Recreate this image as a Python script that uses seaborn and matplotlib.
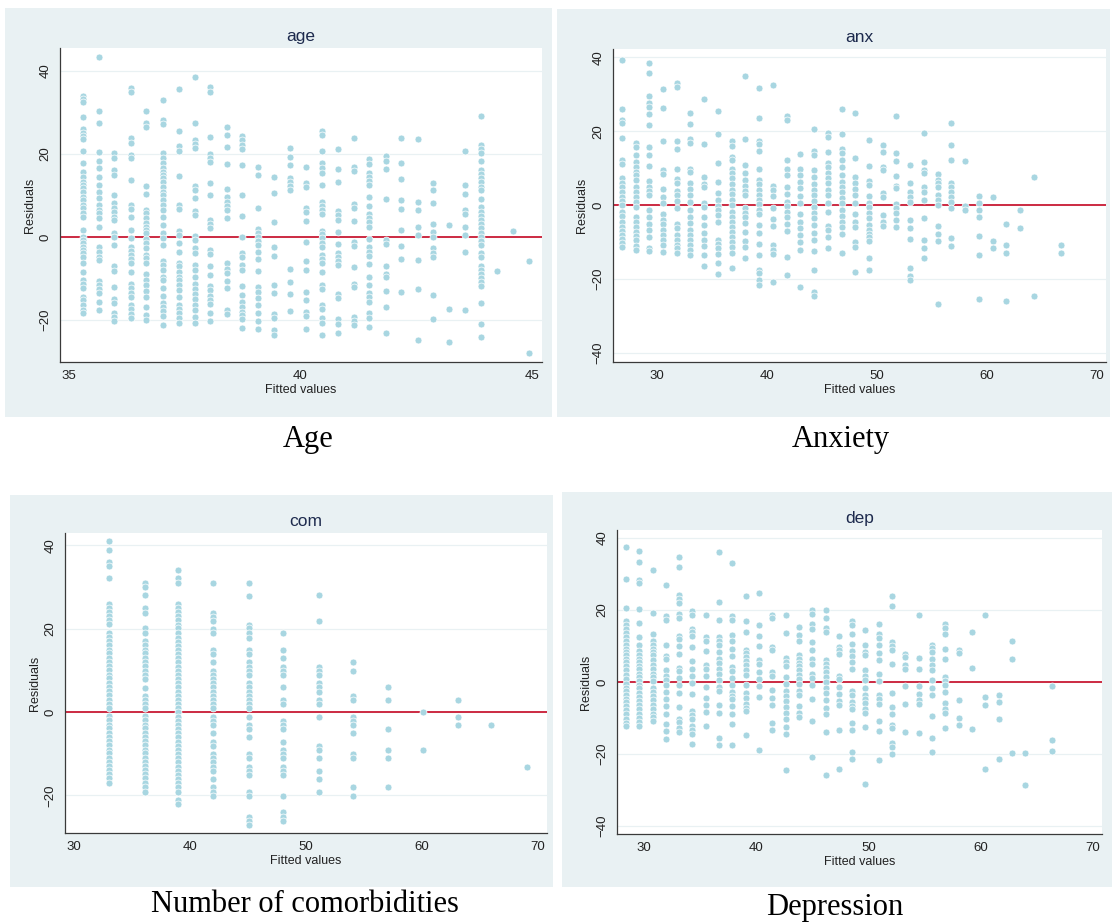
import numpy as np
import pandas as pd
import matplotlib
matplotlib.use("Agg")
import matplotlib.pyplot as plt
import seaborn as sns
from matplotlib.patches import Rectangle

# ---------------- data: fitted value of each column and residuals in it ----------------
AGE_FIT = [35.31, 35.66, 35.99, 36.35, 36.68, 37.03, 37.38, 37.72, 38.06, 38.41, 38.75,
           39.09, 39.44, 39.78, 40.12, 40.46, 40.81, 41.15, 41.49, 41.84, 42.18, 42.53,
           42.87, 43.21, 43.55, 43.89, 44.24, 44.58, 44.93]
AGE_RES = [
    [34.0, 33.2, 32.4, 28.8, 25.9, 25.1, 24.3, 23.5, 20.8, 17.8, 15.7, 14.5, 13.3, 12.5, 11.7, 10.9, 9.7, 8.8, 7.7, 6.9, 5.7, 4.9, 1.7, 0.1, -0.7, -1.5, -2.3, -3.1, -3.9, -4.7, -6.3, -8.4, -10.4, -11.2, -12.4, -14.4, -15.2, -16.4, -17.6, -18.4],
    [43.4, 30.4, 27.5, 20.4, 18.4, 16.5, 14.5, 12.5, 10.9, 9.3, 7.7, 6.5, 5.7, 4.5, 2.3, -2.3, -3.5, -4.7, -5.5, -10.5, -11.6, -12.6, -13.6, -15.6, -17.6],
    [20.2, 19.0, 16.1, 15.0, 10.1, 8.1, 6.9, 6.1, 4.9, 4.1, 1.0, 0.1, -1.9, -7.1, -8.2, -12.1, -15.0, -16.0, -18.2, -19.2, -20.2],
    [35.8, 34.8, 23.8, 22.7, 19.8, 19.0, 13.7, 7.7, 6.7, 4.7, 1.7, -0.3, -2.3, -3.4, -4.3, -5.3, -6.3, -8.4, -11.2, -12.2, -13.4, -14.4, -16.4, -17.4, -18.6, -19.4],
    [30.4, 27.4, 26.4, 12.3, 10.3, 6.5, 5.7, 4.5, 3.3, 2.5, 1.7, 0.9, -0.6, -1.4, -2.7, -4.3, -5.1, -6.3, -8.8, -10.4, -11.6, -12.9, -14.4, -16.8, -18.8, -20.0],
    [33.0, 28.2, 27.2, 20.2, 19.0, 17.8, 16.5, 15.7, 14.9, 14.1, 13.3, 12.1, 10.9, 10.1, 8.9, 7.7, 6.5, 4.9, 2.9, 0.9, -0.3, -1.9, -5.9, -6.7, -8.0, -9.6, -10.4, -12.4, -14.2, -16.0, -16.8, -17.8, -19.0, -21.2],
    [35.7, 25.6, 21.8, 20.8, 14.7, 7.7, 6.7, 1.5, 0.5, -1.5, -3.5, -6.3, -7.1, -8.4, -9.6, -10.4, -11.6, -12.8, -14.4, -16.4, -17.4, -18.4, -19.6, -20.6],
    [38.4, 27.4, 23.4, 22.4, 21.4, 12.3, 11.2, 9.3, 6.3, 5.3, 0.2, -0.7, -2.7, -3.9, -6.7, -8.0, -9.7, -11.2, -12.6, -13.7, -15.0, -16.4, -17.6, -19.2, -20.8],
    [36.2, 35.0, 24.0, 20.0, 19.0, 18.0, 12.9, 10.0, 4.1, 3.1, 2.1, -3.1, -4.1, -7.1, -9.2, -11.9, -12.8, -14.2, -15.2, -16.2, -18.2, -20.2],
    [26.6, 24.6, 21.6, 17.6, 11.6, 9.6, 8.5, 7.5, 6.5, 4.5, -6.3, -7.6, -8.6, -10.5, -12.4, -17.6, -18.6],
    [24.2, 23.4, 22.2, 21.2, 17.3, 10.1, 5.1, 0.1, -3.9, -4.7, -6.7, -8.0, -11.9, -13.9, -15.6, -16.8, -18.0, -18.9, -19.8, -21.8],
    [16.9, 14.9, 6.9, 1.9, 1.0, 0.1, -1.0, -1.9, -3.5, -5.4, -8.1, -12.1, -13.2, -14.8, -16.4, -18.2, -20.2, -22.2],
    [14.5, 10.5, 3.5, -2.5, -4.5, -11.6, -13.6, -18.6, -19.4, -22.4, -23.6],
    [21.4, 19.2, 17.3, 14.2, 13.3, 12.3, 11.3, -7.8, -10.9, -13.8, -17.8],
    [16.9, 13.1, 12.1, 6.9, 5.9, 3.9, -1.1, -5.9, -8.0, -13.2, -15.2, -18.0, -19.0, -22.2],
    [25.6, 24.6, 20.6, 17.8, 16.5, 15.5, 12.5, 8.5, 7.5, 6.5, 5.5, 1.5, 0.6, -0.3, -1.4, -2.3, -4.3, -5.3, -6.3, -8.5, -11.6, -12.6, -16.4, -17.4, -19.4, -20.6, -23.5],
    [21.2, 16.3, 13.2, 6.3, 5.3, 4.1, 1.1, -1.8, -3.8, -4.7, -5.8, -6.8, -13.7, -14.8, -19.8, -21.0, -23.0],
    [23.9, 16.9, 15.9, 8.0, 6.9, 3.9, -1.1, -2.2, -7.3, -11.2, -12.1, -19.2, -20.2, -21.2],
    [18.7, 17.6, 15.5, 14.5, 13.5, 12.5, 9.6, 7.5, 5.5, 4.5, 3.5, 2.5, -0.5, -2.5, -3.5, -4.5, -6.5, -9.6, -11.6, -13.6, -14.5, -15.6, -18.4, -19.4, -21.6],
    [19.4, 18.3, 16.3, 9.2, -0.7, -1.8, -6.9, -8.8, -9.7, -12.9, -16.9, -23.0],
    [23.9, 17.9, 13.9, 8.8, 6.8, 1.8, -2.2, -5.2, -13.2],
    [23.5, 8.4, 6.5, 2.5, 0.5, -5.5, -12.6, -24.7],
    [13.1, 11.2, 8.1, 3.1, 1.1, 0.1, -2.7, -3.8, -4.9, -14.0, -19.8],
    [2.8, -17.3, -25.3],
    [20.6, 12.4, 10.4, 6.5, 5.5, 2.5, 0.5, -3.6, -17.6],
    [29.2, 22.2, 21.2, 20.2, 18.2, 16.1, 15.2, 14.1, 13.2, 12.1, 11.2, 9.2, 7.1, 6.1, 5.1, 4.1, 3.1, 2.1, 1.0, 0.1, -1.0, -1.9, -3.9, -4.9, -6.9, -8.0, -8.9, -9.9, -10.9, -11.9, -16.0, -21.0, -24.0],
    [-8.3],
    [1.4],
    [-5.9, -28.0],
]

ANX_FIT = [26.82, 28.06, 29.30, 30.55, 31.79, 33.03, 34.27, 35.55, 36.79, 38.03, 39.30,
           40.55, 41.79, 43.03, 44.27, 45.52, 46.79, 48.03, 49.27, 50.52, 51.75, 53.03,
           54.27, 55.52, 56.75, 58.03, 59.27, 60.52, 61.75, 63.0, 64.27, 66.75]
ANX_RES = [
    [39.1, 26.0, 23.0, 22.1, 18.1, 12.2, 11.1, 7.2, 6.0, 5.0, 3.6, 2.3, 1.2, 0.0, -1.8, -3.0, -4.5, -5.9, -6.9, -8.1, -9.2, -10.2, -11.3],
    [16.9, 15.8, 13.5, 11.7, 10.4, 9.0, 8.1, 6.8, 5.0, 3.6, 2.3, 0.9, -0.5, -3.2, -4.5, -5.9, -7.2, -8.4, -9.5, -11.1, -12.2],
    [38.5, 35.6, 29.6, 27.7, 26.6, 24.6, 21.6, 15.6, 13.5, 10.6, 6.6, 5.0, 3.9, 2.7, -1.4, -3.3, -5.1, -6.8, -8.6, -11.5, -12.4],
    [31.3, 26.3, 17.3, 9.5, 8.4, 4.3, 2.3, 0.5, -2.3, -4.1, -5.1, -6.6, -8.1, -9.5, -10.8, -12.6],
    [32.9, 32.0, 17.2, 15.1, 9.9, 7.0, 5.9, 3.8, 2.7, 1.1, -0.9, -5.0, -6.3, -8.1, -9.5, -10.8, -11.7, -12.9],
    [24.8, 21.9, 17.9, 16.7, 9.9, 9.0, 5.9, 4.3, 2.7, 0.9, -1.4, -3.2, -4.8, -6.6, -8.1, -9.5, -10.8, -12.2, -13.5],
    [28.6, 16.6, 7.7, 5.7, 5.0, 0.7, -0.5, -3.3, -5.4, -7.5, -9.3, -11.1, -13.5, -16.5],
    [25.4, 19.3, 11.3, 6.3, 3.2, 1.4, -0.3, -1.2, -2.7, -4.5, -9.5, -10.6, -11.7, -13.1, -15.6, -18.7],
    [17.4, 16.0, 13.1, 12.2, 9.9, 8.8, 7.2, 5.7, 4.2, 3.0, 1.5, 0.0, -1.8, -3.2, -4.5, -5.9, -7.2, -8.6, -9.9, -11.3, -12.9, -17.0],
    [34.9, 17.8, 10.8, 8.8, 6.8, 5.1, 3.9, 2.7, -0.9, -2.1, -3.2, -4.8, -7.2, -9.7, -11.3, -14.2],
    [31.6, 23.6, 17.4, 16.5, 14.7, 9.9, 6.8, 5.7, 4.2, 2.7, 1.4, 0.3, -1.2, -2.4, -5.4, -7.5, -10.4, -13.5, -17.4, -18.3, -20.3, -21.7],
    [32.4, 5.2, 4.1, 2.4, -0.7, -3.8, -5.7, -10.8, -12.0, -13.1, -20.8],
    [24.1, 23.0, 12.2, 9.9, 8.1, 5.0, 3.0, 0.9, -0.3, -1.8, -3.2, -5.0, -6.9, -14.0, -19.0],
    [13.8, 9.9, 8.1, 6.3, 4.5, 2.4, 0.5, -2.3, -4.5, -6.3, -8.1, -9.9, -12.2, -22.1],
    [20.6, 14.7, 13.5, 9.5, 7.5, 5.7, 4.2, 2.7, 1.2, -0.5, -2.1, -3.6, -5.4, -7.5, -9.5, -12.4, -17.4, -23.5, -24.6],
    [19.4, 18.3, 14.3, 11.3, 10.2, 8.6, 7.2, 6.0, 4.2, 2.7, 0.5, -1.8, -5.7, -6.8, -8.6, -11.7],
    [26.1, 19.1, 15.3, 14.0, 12.2, 10.2, 8.1, 6.3, 5.0, 3.6, 1.8, 0.5, -1.4, -3.0, -4.5, -6.0, -7.9, -12.9],
    [24.8, 12.8, 7.7, 5.9, 4.3, 2.7, 0.5, -2.3, -4.5, -5.9, -9.9, -11.3, -18.2],
    [17.6, 10.6, 6.6, 5.4, 2.6, 0.5, -0.6, -2.1, -3.6, -5.4, -6.6, -7.7, -8.6, -9.7, -14.4, -17.4],
    [16.3, 14.3, 10.4, 9.5, 3.3, 2.3, -2.7, -4.5, -5.6],
    [24.1, 14.1, 12.0, 8.0, 5.2, 4.5, 0.3, -0.9, -2.1, -4.1, -5.9],
    [10.8, 5.9, 3.6, 2.1, 0.9, -4.1, -6.3, -9.2, -17.1, -19.1, -20.3],
    [19.6, 11.6, 9.5, 8.6, 5.0, 3.6, 1.5, -3.4, -9.5, -11.5, -14.4],
    [8.4, 6.8, 5.9, 4.8, 2.7, 1.4, 0.0, -5.6, -7.7, -9.7, -26.8],
    [22.1, 16.2, 12.2, 6.1, 5.0, 3.6, 2.3, 0.9, -0.9, -9.0, -11.0],
    [11.8, -0.2, -1.2],
    [2.6, 0.6, -1.4, -3.3, -8.4, -13.4, -25.5],
    [2.3, -9.7, -11.7],
    [-5.0, -10.8, -12.9, -25.9],
    [-1.2, -6.1],
    [7.6, -24.5],
    [-10.9, -12.9],
]

COM_FIT = [33.0, 36.1, 39.0, 42.0, 45.1, 48.0, 51.1, 54.1, 57.1, 60.1, 63.1, 66.0, 69.1]
COM_RES = [
    [41.0, 39.0, 36.1, 35.0, 32.1, 25.9, 25.0, 24.1, 23.0, 22.1, 21.1, 19.0, 18.1, 17.0, 16.1, 15.0, 14.1, 13.0, 12.1, 11.0, 10.1, 9.0, 8.1, 7.0, 6.1, 5.0, 4.1, 3.0, 1.9, 1.0, -1.0, -1.9, -3.0, -3.9, -5.0, -5.9, -7.0, -7.9, -9.0, -9.9, -11.0, -11.9, -13.0, -13.9, -15.0, -15.9, -17.0],
    [31.0, 30.1, 28.1, 25.0, 23.9, 20.1, 19.1, 17.0, 16.1, 14.9, 14.1, 13.0, 11.9, 11.0, 9.9, 9.0, 7.9, 5.8, 3.9, 3.0, 1.9, 0.9, -1.0, -1.9, -3.0, -3.9, -5.0, -5.9, -7.0, -7.9, -9.0, -9.9, -11.0, -11.9, -13.0, -13.9, -15.0, -15.9, -17.0, -17.9, -19.1],
    [34.1, 32.1, 31.0, 25.9, 25.0, 24.1, 23.0, 22.1, 21.0, 20.1, 19.0, 17.9, 16.9, 15.9, 14.9, 13.9, 12.9, 11.9, 10.9, 9.9, 8.9, 7.9, 6.9, 5.9, 4.9, 3.9, 2.9, 1.9, 0.9, -0.1, -1.1, -2.1, -3.1, -4.1, -5.1, -6.1, -7.1, -8.1, -9.1, -10.1, -11.1, -12.1, -13.1, -14.1, -15.1, -16.1, -17.1, -18.1, -19.1, -21.1, -22.1],
    [31.0, 23.9, 22.9, 21.9, 19.9, 18.9, 14.9, 13.9, 11.9, 9.9, 8.9, 7.9, 6.9, 5.9, 4.9, 3.9, 2.9, 1.9, 0.9, -1.1, -2.1, -3.1, -5.1, -7.1, -8.1, -10.1, -11.1, -12.1, -13.1, -14.1, -16.1, -18.1, -19.1, -20.1],
    [31.0, 27.9, 21.0, 20.1, 19.0, 17.9, 14.9, 13.9, 11.9, 10.9, 9.9, 8.9, 6.9, 5.9, 4.9, 3.9, 2.9, 1.9, 0.9, -1.1, -3.1, -4.1, -6.1, -10.1, -11.1, -13.1, -14.1, -15.1, -19.1, -20.1, -25.1, -26.1, -27.1],
    [18.9, 14.9, 12.9, 10.9, 9.9, 8.9, 5.9, 2.9, 1.9, -2.1, -3.1, -4.1, -7.1, -9.1, -10.1, -11.1, -13.1, -14.1, -15.1, -20.1, -24.1, -25.1, -26.1],
    [28.0, 21.9, 10.9, 9.9, 8.9, 6.9, 5.9, 4.9, 2.9, 1.9, -1.1, -8.1, -9.1, -11.1, -14.1, -16.1, -19.1],
    [11.9, 9.9, 3.9, 2.9, -1.1, -2.1, -3.1, -5.1, -10.1, -11.1, -18.1, -20.1],
    [5.9, 2.9, -4.1, -9.1, -11.1, -18.1],
    [0.0, -9.1],
    [2.9, -1.1, -3.1],
    [-3.1],
    [-13.1],
]

DEP_FIT = [28.37, 29.55, 30.75, 31.91, 33.09, 34.28, 35.47, 36.66, 37.84, 39.04, 40.22,
           41.41, 42.60, 43.79, 44.97, 46.17, 47.35, 48.51, 49.70, 50.89, 52.08, 53.26,
           54.46, 55.64, 56.83, 58.02, 59.21, 60.39, 61.59, 62.77, 63.96, 66.34]
DEP_RES = [
    [37.6, 28.6, 20.6, 16.8, 15.7, 14.6, 13.6, 12.5, 11.4, 10.3, 9.2, 8.3, 7.4, 6.5, 5.5, 4.4, 3.2, 2.0, 0.7, -0.5, -1.7, -2.6, -3.7, -4.6, -5.5, -6.6, -7.8, -9.0, -10.2, -11.3, -12.2],
    [36.4, 33.4, 28.4, 27.4, 20.4, 16.4, 12.5, 10.4, 8.5, 7.4, 6.5, 5.5, 4.4, 3.5, 2.3, 1.4, 0.2, -0.9, -1.8, -3.0, -4.2, -5.4, -6.5, -7.6, -8.8, -10.0, -11.1, -12.2],
    [31.2, 19.2, 13.3, 11.5, 10.2, 9.2, 8.3, 7.4, 6.0, 4.6, 3.5, 2.3, 1.4, 0.2, -1.7, -2.8, -3.9, -5.1, -6.3, -7.6, -8.8, -9.7, -10.8],
    [27.0, 18.2, 17.1, 10.2, 7.2, 6.3, 3.2, 1.7, 0.5, -0.9, -2.8, -4.6, -6.7, -8.8, -11.7, -13.7, -15.7],
    [34.7, 31.9, 24.2, 23.1, 22.0, 18.9, 17.8, 12.9, 11.8, 10.0, 7.8, 4.0, 3.0, 1.1, -0.9, -3.0, -6.9, -10.2, -11.1, -12.9, -14.0],
    [19.7, 18.7, 14.8, 13.9, 12.7, 9.7, 5.7, 3.7, 1.7, -0.2, -3.2, -8.1, -9.2, -10.3, -12.2, -13.4, -14.3, -17.1],
    [18.5, 12.5, 11.5, 8.5, 4.6, 3.7, 1.7, -1.4, -4.4, -6.5, -8.3, -12.3],
    [36.2, 22.3, 17.3, 12.5, 11.5, 10.2, 8.3, 6.5, 5.4, 3.7, 2.3, 0.5, -1.4, -2.6, -6.5, -8.5, -15.5, -17.4],
    [33.1, 18.2, 17.3, 13.1, 11.5, 9.2, 7.2, 4.2, 3.0, 1.1, -0.7, -2.8, -3.9, -4.8, -6.6, -8.8, -11.7, -17.5],
    [24.0, 16.9, 14.0, 9.0, 8.0, 6.9, 5.7, 4.6, 3.2, 2.0, -0.9, -3.0, -4.4, -6.0, -7.2, -8.1, -14.8],
    [24.7, 15.7, 12.7, 9.9, 6.0, 5.1, 2.8, 0.7, -1.1, -4.2, -19.0],
    [18.7, 17.7, 9.7, 8.8, 2.8, 1.7, -2.3, -4.4, -6.3, -11.3, -13.2],
    [18.5, 13.5, 6.6, 5.5, 4.4, 1.4, -0.6, -2.6, -3.9, -5.4, -6.9, -8.5, -10.4, -12.5, -14.5, -24.4],
    [15.2, 13.1, 11.3, 7.6, 6.5, 5.4, 4.4, 3.2, 2.0, 0.9, -0.6, -2.6, -3.7, -6.6, -8.5, -9.7],
    [20.1, 18.9, 16.1, 14.8, 11.1, 9.0, 6.5, 5.1, 2.1, 1.1, -0.9, -4.8, -10.8, -20.8],
    [19.9, 17.7, 15.0, 13.9, 6.2, 5.1, 3.9, 2.8, 1.4, 0.0, -1.8, -3.0, -5.1, -7.1, -9.0, -14.0, -25.9],
    [12.7, 9.7, 8.8, 7.7, 1.8, 0.9, -1.4, -3.4, -5.3, -6.3, -13.2, -24.2],
    [16.8, 15.7, 13.4, 10.6, 8.5, 7.2, 5.5, 3.7, -2.6, -3.5, -5.5, -6.6, -7.4, -11.3, -13.4, -19.4, -21.4],
    [14.3, 10.3, 8.3, 7.4, 3.4, 1.7, 0.5, -1.6, -3.5, -4.6, -5.7, -7.6, -8.6, -12.5, -28.4],
    [16.2, 13.4, 12.2, 10.2, 8.1, 6.2, 2.2, 0.2, -3.7, -4.8, -6.0, -10.7, -13.7, -21.6],
    [23.8, 21.0, 11.1, 10.0, 9.0, 5.0, -3.0, -6.9, -9.0, -11.8, -12.7, -16.8, -18.0, -19.9],
    [7.8, 6.9, 4.6, 3.7, -1.2, -6.1, -14.0],
    [18.6, 6.6, 3.6, -1.2, -3.2, -5.1, -6.2, -14.2],
    [10.4, 9.4, 8.3, 6.5, 4.6, 3.4, 0.5, -1.6, -3.5, -9.5, -15.5, -19.4],
    [16.2, 15.0, 13.2, 9.2, 6.3, 1.4, 0.2, -0.9, -2.8, -5.7, -7.6, -8.6, -12.7],
    [9.0, 8.0, -4.9, -9.9, -11.9],
    [13.9, 3.9, -13.0],
    [18.7, -4.3, -6.3, -24.2],
    [-3.5, -5.5, -10.4, -21.4],
    [11.3, 6.3, -19.6],
    [-19.8, -28.7],
    [-1.2, -16.2, -19.1],
]

TITLES = ["age", "anx", "com", "dep"]
CAPTIONS = ["Age", "Anxiety", "Number of comorbidities", "Depression"]
X_TICKS = [[35, 40, 45], [30, 40, 50, 60, 70], [30, 40, 50, 60, 70], [30, 40, 50, 60, 70]]
Y_TICKS = [[-20, 0, 20, 40], [-40, -20, 0, 20, 40], [-20, 0, 20, 40], [-40, -20, 0, 20, 40]]
X_LABEL = "Fitted values"
Y_LABEL = "Residuals"

# ---------------- styling ----------------
sns.set_style("white")
plt.rcParams["font.family"] = ["Liberation Sans", "DejaVu Sans"]

BG = "#e9f1f3"
DOT = "#a8d6e1"
RED = "#cc2a42"
TITLE_C = "#1d2a4d"
AX_C = "#3a3a3a"

W, H = 1112, 924
fig = plt.figure(figsize=(W / 100, H / 100), dpi=100)
fig.patch.set_facecolor("white")


def frac(x0, y0, x1, y1):
    return [x0 / W, 1 - y1 / H, (x1 - x0) / W, (y1 - y0) / H]


bg_boxes = [(5, 8, 552, 417), (557, 9, 1110, 417), (10, 495, 553, 887), (562, 492, 1112, 887)]
ax_boxes = [(60, 48, 542, 362), (613, 49, 1106, 362), (65, 533, 547, 833), (617, 530, 1102, 834)]
xlims = [(34.82, 45.21), (26.0, 70.82), (29.22, 70.8), (27.57, 70.79)]
ylims = [(-30.1, 45.5), (-42.4, 42.2), (-29.05, 43.0), (-42.2, 42.2)]
captions_xy = [(308, 440), (841, 440), (305, 905), (835, 907)]

for b in bg_boxes:
    l, btm, w, h = frac(*b)
    fig.patches.append(Rectangle((l, btm), w, h, transform=fig.transFigure,
                                 facecolor=BG, edgecolor="none", zorder=-5))

datasets = [(AGE_FIT, AGE_RES), (ANX_FIT, ANX_RES), (COM_FIT, COM_RES), (DEP_FIT, DEP_RES)]

for i, (fits, res) in enumerate(datasets):
    rows = [(f, r) for f, col in zip(fits, res) for r in col]
    df = pd.DataFrame(rows, columns=["fit", "res"])
    ax = fig.add_axes(frac(*ax_boxes[i]))
    ax.set_zorder(2)
    ax.set_facecolor("white")
    ax.set_xlim(*xlims[i])
    ax.set_ylim(*ylims[i])
    ax.set_yticks(Y_TICKS[i])
    ax.set_xticks(X_TICKS[i])
    for yv in Y_TICKS[i]:
        ax.axhline(yv, color=BG, lw=0.9, zorder=0.5)
    ax.axhline(0, color=RED, lw=1.4, zorder=1)
    sns.scatterplot(data=df, x="fit", y="res", ax=ax, color=DOT, s=25,
                    edgecolor="white", linewidth=0.5, zorder=3, legend=False)
    for s in ["top", "right"]:
        ax.spines[s].set_visible(False)
    for s in ["left", "bottom"]:
        ax.spines[s].set_color(AX_C)
        ax.spines[s].set_linewidth(0.9)
    ax.tick_params(axis="both", direction="out", length=4, width=0.8, color=AX_C,
                   labelsize=9.5, labelcolor="#222222", pad=2)
    for lab in ax.get_yticklabels():
        lab.set_rotation(90)
        lab.set_va("center")
    ax.set_xlabel(X_LABEL, fontsize=9, color="#222222", labelpad=1)
    ax.set_ylabel(Y_LABEL, fontsize=9, color="#222222", labelpad=3)
    ax.set_title(TITLES[i], fontsize=12.5, color=TITLE_C, pad=5)
    cx, cy = captions_xy[i]
    fig.text(cx / W, 1 - cy / H, CAPTIONS[i], ha="center", va="center",
             fontsize=22, family=["Liberation Serif", "DejaVu Serif"], color="black")

fig.savefig("out.png", dpi=100, facecolor="white")
